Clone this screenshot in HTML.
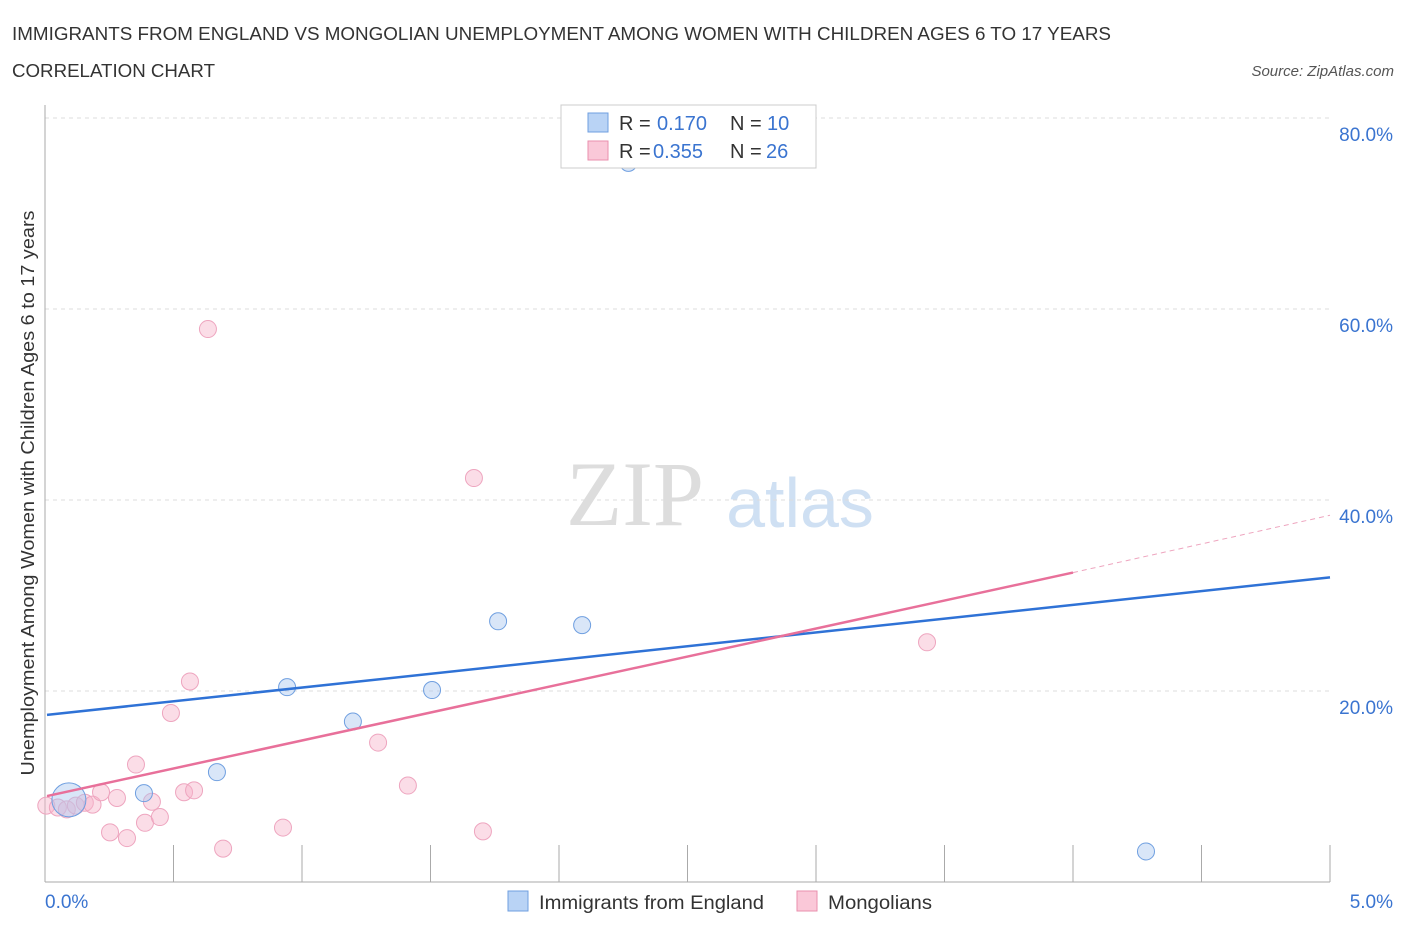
<!DOCTYPE html>
<html><head><meta charset="utf-8"><style>
body{margin:0;background:#fff;font-family:"Liberation Sans",sans-serif;}
svg text{font-family:"Liberation Sans",sans-serif;}
</style></head><body>
<svg width="1406" height="930" id="chart">
<text x="12" y="40" font-size="18" fill="#333" textLength="1099" lengthAdjust="spacingAndGlyphs">IMMIGRANTS FROM ENGLAND VS MONGOLIAN UNEMPLOYMENT AMONG WOMEN WITH CHILDREN AGES 6 TO 17 YEARS</text>
<text x="12" y="77" font-size="18" fill="#333" textLength="203" lengthAdjust="spacingAndGlyphs">CORRELATION CHART</text>
<text x="1394" y="76" font-size="15" fill="#555" font-style="italic" text-anchor="end">Source: ZipAtlas.com</text>
<text x="635" y="525" font-size="92" fill="#ddd" font-family="Liberation Serif" text-anchor="middle" style="font-family:'Liberation Serif',serif">ZIP</text>
<text x="800" y="527" font-size="70" fill="#cfe0f3" text-anchor="middle">atlas</text>
<text transform="translate(34,493) rotate(-90)" font-size="18" fill="#333" text-anchor="middle" textLength="565" lengthAdjust="spacingAndGlyphs">Unemployment Among Women with Children Ages 6 to 17 years</text>
<g id="grid"></g><g id="marks"></g>
<g>
<rect x="561" y="105" width="255" height="63" fill="#fff" stroke="#ccc"/>
<rect x="588" y="113" width="20" height="19" fill="#b9d3f5" stroke="#6f9fe0"/>
<rect x="588" y="141" width="20" height="19" fill="#fac8d8" stroke="#ea8fae"/>
<text x="619" y="130" font-size="20" fill="#333">R = </text><text x="657" y="130" font-size="20" fill="#3a74d0">0.170</text>
<text x="730" y="130" font-size="20" fill="#333">N = </text><text x="767" y="130" font-size="20" fill="#3a74d0">10</text>
<text x="619" y="158" font-size="20" fill="#333">R = </text><text x="653" y="158" font-size="20" fill="#3a74d0">0.355</text>
<text x="730" y="158" font-size="20" fill="#333">N = </text><text x="766" y="158" font-size="20" fill="#3a74d0">26</text>
</g>
<g>
<rect x="508" y="891" width="20" height="20" fill="#b9d3f5" stroke="#6f9fe0"/>
<text x="539" y="909" font-size="19" fill="#333" textLength="225" lengthAdjust="spacingAndGlyphs">Immigrants from England</text>
<rect x="797" y="891" width="20" height="20" fill="#fac8d8" stroke="#ea8fae"/>
<text x="828" y="909" font-size="19" fill="#333" textLength="104" lengthAdjust="spacingAndGlyphs">Mongolians</text>
</g>
</svg>
<script>
const xTicks=[0,5];
const yTicks=[20,40,60,80];
const blueX=[0.093,0.385,0.669,0.942,1.198,1.506,1.763,2.09,2.27,4.284];
const blueY=[8.6,9.3,11.5,20.4,16.8,20.1,27.3,26.9,75.3,3.2];
const pinkX=[0.005,0.05,0.085,0.12,0.155,0.185,0.218,0.253,0.28,0.319,0.354,0.389,0.416,0.447,0.49,0.541,0.564,0.58,0.634,0.693,0.926,1.296,1.412,1.669,1.704,3.432];
const pinkY=[8.0,7.8,7.6,8.0,8.3,8.1,9.4,5.2,8.8,4.6,12.3,6.2,8.4,6.8,17.7,9.4,21.0,9.6,57.9,3.5,5.7,14.6,10.1,42.3,5.3,25.1];
const blueLine=[[0,17.5],[5,31.9]];
const pinkLine=[[0,9.0],[4,32.4],[5,38.4]];
const X=v=>45+v/5*1285, Y=v=>882-v/80*764;
const NS="http://www.w3.org/2000/svg";
function mk(t,a,p){const e=document.createElementNS(NS,t);for(const k in a)e.setAttribute(k,a[k]);p.appendChild(e);return e;}
const g=document.getElementById('grid'),m=document.getElementById('marks');
yTicks.forEach(t=>{const l=mk('line',{x1:45,x2:1330,y1:Y(t),y2:Y(t),stroke:'#ddd','stroke-dasharray':'4,4'},g);


const tx=mk('text',{x:1393,y:Y(t)+23,'font-size':19,fill:'#3a74d0','text-anchor':'end'},g);tx.textContent=t.toFixed(1)+'%';

});
mk('line',{x1:45,x2:45,y1:105,y2:882,stroke:'#aaa'},g);
mk('line',{x1:45,x2:1330,y1:882,y2:882,stroke:'#aaa'},g);
for(let i=1;i<=10;i++){mk('line',{x1:X(i*0.5),x2:X(i*0.5),y1:845,y2:882,stroke:'#aaa'},g);}
xTicks.forEach((t,i)=>{const tx=mk('text',{x:i?1393:45,y:908,'font-size':19,fill:'#3a74d0','text-anchor':i?'end':'start'},g);tx.textContent=t.toFixed(1)+'%';

});
pinkX.forEach((x,i)=>{const c=mk('circle',{cx:X(x),cy:Y(pinkY[i]),r:8.5,fill:'rgba(247,180,202,0.45)',stroke:'#eea5bf','stroke-width':1},m);

});
blueX.forEach((x,i)=>{const c=mk('circle',{cx:X(x),cy:Y(blueY[i]),r:i==0?17:8.5,fill:'rgba(170,200,240,0.45)',stroke:'#6f9fe0','stroke-width':1},m);

});
let l=mk('line',{x1:X(blueLine[0][0])+2,y1:Y(blueLine[0][1]),x2:X(blueLine[1][0]),y2:Y(blueLine[1][1]),stroke:'#2f72d6','stroke-width':2.5},m);


l=mk('line',{x1:X(pinkLine[0][0])+2,y1:Y(pinkLine[0][1]),x2:X(pinkLine[1][0]),y2:Y(pinkLine[1][1]),stroke:'#e8709a','stroke-width':2.5},m);


l=mk('line',{x1:X(pinkLine[1][0]),y1:Y(pinkLine[1][1]),x2:X(pinkLine[2][0]),y2:Y(pinkLine[2][1]),stroke:'#eea5bf','stroke-width':1,'stroke-dasharray':'5,4'},m);


</script>
</body></html>
